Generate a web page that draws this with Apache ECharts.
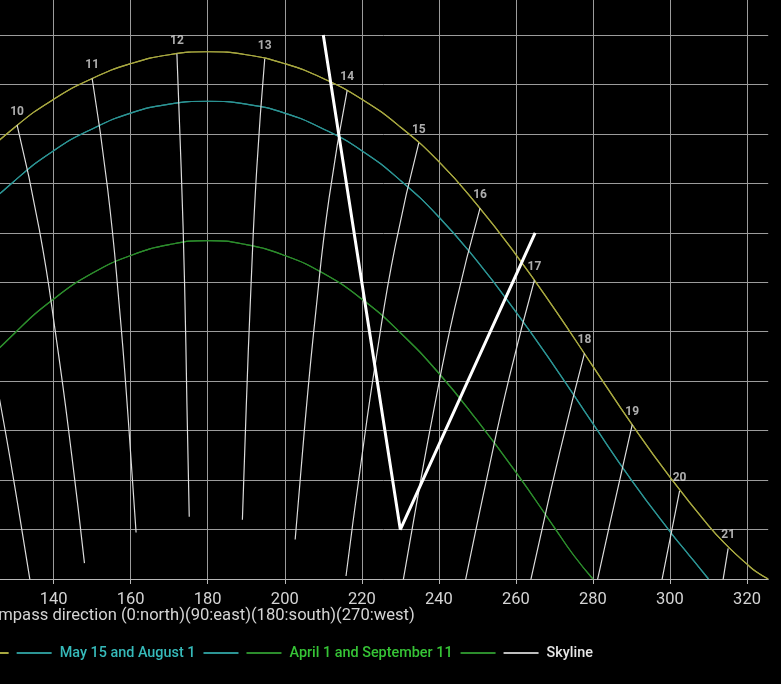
<!DOCTYPE html>
<html>
<head>
<meta charset="utf-8">
<script src="https://cdn.jsdelivr.net/npm/echarts@6/dist/echarts.min.js"></script>
<style>
html,body{margin:0;padding:0;background:#000;}
#chart{width:781px;height:684px;}
</style>
</head>
<body>
<div id="chart"></div>
<script>
// ---- data (azimuth in degrees, sun altitude in degrees) ----
const xAxisTitle = 'Compass direction (0:north)(90:east)(180:south)(270:west)';
const seriesNames = ['June 21', '_june', 'May 15 and August 1', '_may', 'April 1 and September 11', '_april', 'Skyline'];

const june21 = [[110,37.8],[120,42.1],[130,45.7],[140,48.5],[150,50.6],[160,52.1],[170,53.0],[180,53.3],
  [190,53.0],[200,52.1],[210,50.6],[220,48.5],[230,45.7],[240,42.2],[250,37.8],[260,32.8],[270,27.3],
  [280,21.5],[290,15.7],[300,10.3],[310,5.4],[315,3.3],[320,1.5],[322.5,0.7],[325.5,0]];

const may15aug1 = [[110,32.1],[120,36.6],[130,40.3],[140,43.3],[150,45.5],[160,47.1],[170,48.0],[180,48.3],
  [190,48.0],[200,47.1],[210,45.5],[220,43.3],[230,40.3],[240,36.6],[250,32.1],[260,27.0],[270,21.5],
  [280,15.7],[290,10.0],[300,4.8],[305,2.4],[307.5,1.2],[310,0]];

const apr1sep11 = [[110,16.0],[120,20.8],[130,24.9],[140,28.3],[150,30.9],[160,32.7],[170,33.8],[180,34.2],
  [190,33.8],[200,32.7],[210,30.9],[220,28.3],[230,24.9],[240,20.8],[250,16.0],[260,10.8],[270,5.2],
  [275,2.4],[280,0]];

const skyline = [[210,55],[230,5],[265,35]];

const hourLabels = ['9','10','11','12','13','14','15','16','17','18','19','20','21'];
const hourLines = [
  [[113.8,39.6],[120.3,29.4],[125.8,18.5],[130.7,7.5],[135.1,-3.1]],
  [[130.5,45.9],[136.3,35.3],[140.8,24.0],[144.7,12.5],[148.0,1.6]],
  [[150.0,50.6],[154.0,39.5],[157.0,27.8],[159.4,16.0],[161.4,4.7]],
  [[172.0,53.1],[173.1,41.6],[174.0,29.7],[174.6,17.7],[175.2,6.3]],
  [[194.8,52.6],[192.7,41.3],[191.2,29.3],[190.0,17.4],[189.0,6.0]],
  [[216.2,49.4],[211.5,38.5],[208.0,26.8],[205.1,15.1],[202.7,4.0]],
  [[234.8,44.1],[228.7,33.7],[223.8,22.5],[219.6,11.2],[215.9,0.3]],
  [[250.7,37.5],[244.2,27.5],[238.5,16.7],[233.4,5.8],[228.7,-4.7]],
  [[264.8,30.2],[258.3,20.4],[252.3,9.9],[246.6,-0.7],[241.2,-10.8]],
  [[277.8,22.8],[271.5,13.0],[265.4,2.6],[259.5,-7.8],[253.5,-17.7]],
  [[290.2,15.6],[284.4,5.6],[278.5,-4.8],[272.4,-15.2]],
  [[302.5,8.9],[297.3,-1.3],[291.8,-12.0]],
  [[315.1,3.1],[310.7,-7.5]]
];

// ---- styling ----
const FONT = 'Roboto';
const colYellow = '#a8a840', colCyan = '#2c9494', colGreen = '#2c8c2c';
const gridColor = '#9c9c9c';

const chart = echarts.init(document.getElementById('chart'), null, {renderer:'canvas'});

function curve(name, data, color, width) {
  return {
    name, type:'line', data, showSymbol:false, symbol:'none', smooth:true, clip:true, silent:true,
    lineStyle:{color, width}, itemStyle:{color}, z:2
  };
}

const series = [
  curve(seriesNames[0], june21, colYellow, 1.2),
  curve(seriesNames[1], june21, colYellow, 1.2),
  curve(seriesNames[2], may15aug1, colCyan, 1.2),
  curve(seriesNames[3], may15aug1, colCyan, 1.2),
  curve(seriesNames[4], apr1sep11, colGreen, 1.2),
  curve(seriesNames[5], apr1sep11, colGreen, 1.2)
];

hourLines.forEach((pts, i) => {
  series.push({
    name:'hour' + hourLabels[i], type:'line', data:pts, showSymbol:false, symbol:'none', smooth:true,
    clip:true, silent:true, lineStyle:{color:'#dcdcdc', width:1.2}, z:3
  });
});

series.push({
  name:'hourLabels', type:'scatter', clip:true, silent:true, symbolSize:0, z:4,
  data: hourLines.map((pts, i) => ({value: pts[0], name: hourLabels[i]})),
  label:{show:true, position:'top', distance:7, formatter: p => p.name,
    color:'#d8d8d8', fontSize:12, fontWeight:'bold', fontFamily:FONT}
});

series.push({
  name: seriesNames[6], type:'line', data: skyline, showSymbol:false, symbol:'none', clip:true, silent:true,
  lineStyle:{color:'#ffffff', width:3}, itemStyle:{color:'#c8c8c8'}, z:5
});

const pad = [0,0,0,3];
const legendData = [
  {name:seriesNames[0], textStyle:{color:'#c8c850', padding:pad}},
  {name:seriesNames[1]},
  {name:seriesNames[2], textStyle:{color:'#36baba', padding:pad}},
  {name:seriesNames[3]},
  {name:seriesNames[4], textStyle:{color:'#36c436', padding:pad}},
  {name:seriesNames[5]},
  {name:seriesNames[6], textStyle:{color:'#e6e6e6', padding:pad}, itemStyle:{color:'#bdbdbd'}}
];

chart.setOption({
  backgroundColor:'#000000',
  animation:false,
  textStyle:{fontFamily:FONT},
  grid:{left:-23.4, right:12.8, top:-14.5, bottom:105, containLabel:false, outerBoundsMode:'none'},
  legend:{
    data: legendData, left:-134, top:641, orient:'horizontal',
    icon:'rect', itemWidth:35, itemHeight:2, itemGap:8,
    formatter: n => n.charAt(0) === '_' ? '' : n,
    textStyle:{fontSize:14.4, fontFamily:FONT, fontWeight:500, color:'#dddddd'},
    selectedMode:false
  },
  xAxis:{
    type:'value', min:120, max:325.5, interval:20,
    axisLine:{show:true, onZero:false, lineStyle:{color:'#b8b8b8', width:1}},
    axisTick:{show:true, length:5, lineStyle:{color:'#b8b8b8'}},
    splitLine:{show:true, showMaxLine:false, lineStyle:{color:gridColor, width:1}},
    axisLabel:{color:'#d4d4d4', fontSize:16.5, fontFamily:FONT, margin:12, showMaxLabel:false, showMinLabel:false},
    name:xAxisTitle, nameLocation:'middle', nameGap:28, nameMoveOverlap:false,
    nameTextStyle:{color:'#d4d4d4', fontSize:16.6, fontFamily:FONT, padding:[0,352,0,0]}
  },
  yAxis:{
    type:'value', min:0, max:60, interval:5,
    axisLine:{show:false}, axisTick:{show:false},
    axisLabel:{show:false},
    splitLine:{show:true, lineStyle:{color:gridColor, width:1}}
  },
  series
});
</script>
</body>
</html>
